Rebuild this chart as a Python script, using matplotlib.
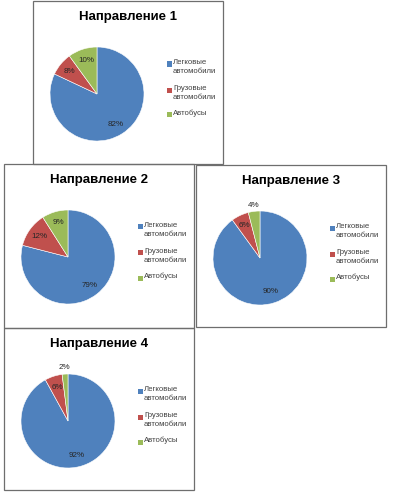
import math
import matplotlib
matplotlib.use("Agg")
import matplotlib.pyplot as plt
from matplotlib.patches import Rectangle

# Доли транспорта по направлениям, %
TITLES = ["Направление 1", "Направление 2", "Направление 3", "Направление 4"]
CARS = [82, 79, 90, 92]
TRUCKS = [8, 12, 6, 6]
BUSES = [10, 9, 4, 2]
LEGEND_LABELS = ["Легковые\nавтомобили", "Грузовые\nавтомобили", "Автобусы"]

COLORS = ["#4F81BD", "#C0504D", "#9BBB59"]
W, H = 393, 493

# рамки панелей в пикселях: x0, y0, x1, y1 (от левого верхнего угла)
PANELS = [(33, 1, 223, 164), (4, 164, 194, 328), (196, 165, 386, 327), (4, 328, 194, 490)]

plt.rcParams["font.family"] = ["Liberation Sans", "DejaVu Sans"]

fig = plt.figure(figsize=(W / 100, H / 100), dpi=100)


def fx(x):
    return x / W


def fy(y):
    return 1 - y / H


def draw_panel(box, title, values):
    x0, y0, x1, y1 = box
    fig.patches.append(Rectangle((fx(x0), fy(y1)), fx(x1 - x0), (y1 - y0) / H,
                                 transform=fig.transFigure, facecolor="none",
                                 edgecolor="#6e6e6e", linewidth=0.9, zorder=1))
    fig.text(fx(x0 + 95), fy(y0 + 16), title, ha="center", va="center",
             fontsize=9.5, fontweight="bold", color="black")

    cx, cy, r = x0 + 64, y0 + 93, 47
    ax = fig.add_axes([fx(cx - r), fy(cy + r), 2 * r / W, 2 * r / H])
    ax.set_zorder(2)
    wedges, _ = ax.pie(values, colors=COLORS, startangle=90, counterclock=False,
                       wedgeprops=dict(edgecolor="white", linewidth=0.4))
    ax.set_xlim(-1, 1)
    ax.set_ylim(-1, 1)
    total = sum(values)
    for w, v in zip(wedges, values):
        ang = math.radians((w.theta1 + w.theta2) / 2)
        d = 0.76 if v / total >= 0.05 else 1.13
        ax.text(d * math.cos(ang), d * math.sin(ang), f"{v}%", ha="center",
                va="center", fontsize=5.8, color="#262626")

    # легенда справа от круга
    ys = [63, 89, 114]
    for col, lab, yy in zip(COLORS, LEGEND_LABELS, ys):
        fig.patches.append(Rectangle((fx(x0 + 134), fy(y0 + yy + 2.5)), 5 / W, 5 / H,
                                     transform=fig.transFigure, facecolor=col,
                                     edgecolor="none", zorder=3))
        fig.text(fx(x0 + 140), fy(y0 + yy - 5), lab, ha="left", va="top",
                 fontsize=5.6, color="#404040", linespacing=1.45)


for box, t, a, b, c in zip(PANELS, TITLES, CARS, TRUCKS, BUSES):
    draw_panel(box, t, [a, b, c])

fig.savefig("out.png", dpi=100)
